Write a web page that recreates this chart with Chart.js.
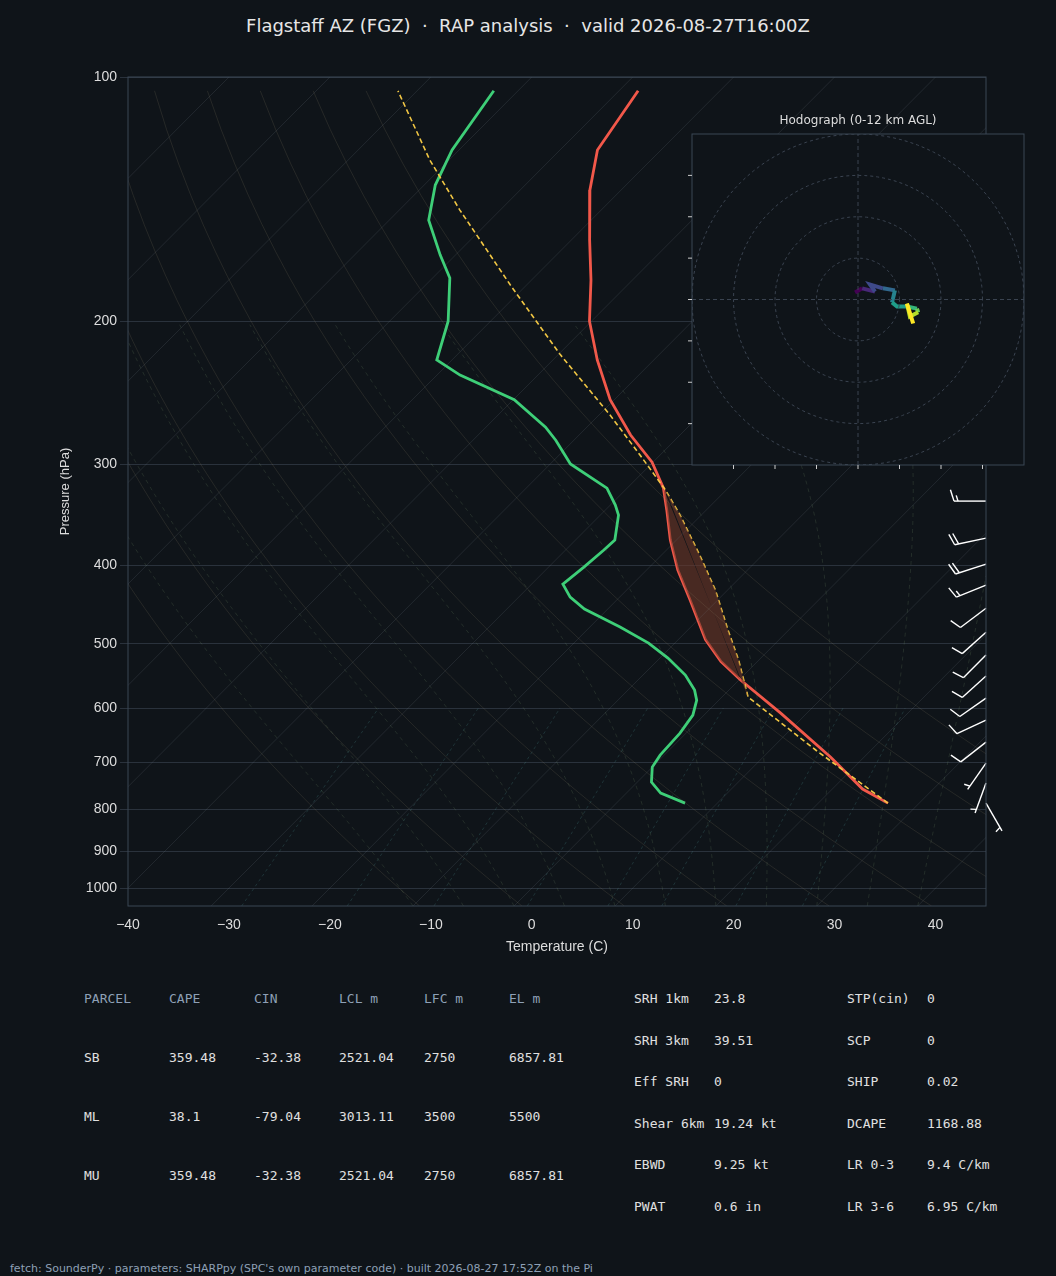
<!DOCTYPE html>
<html>
<head>
<meta charset="UTF-8">
<script src="https://cdn.jsdelivr.net/npm/chart.js"></script>
<style>
  body { margin: 0; background: #0f1419; width: 1056px; height: 1276px; position: relative; overflow: hidden; font-family: 'DejaVu Sans', sans-serif; }
  #title { position: absolute; top: 15px; left: 0; width: 1056px; text-align: center; color: #e6e6e6; font-size: 18px; }
  #skew { position: absolute; left: 0; top: 0; }
  #hodo { position: absolute; left: 682px; top: 124px; }
  #hodoTitle { position: absolute; left: 692px; width: 332px; top: 113px; text-align: center; color: #dddddd; font-size: 12px; }
  .t { position: absolute; font-family: 'DejaVu Sans Mono', monospace; font-size: 13px; color: #e0e0e0; white-space: pre; }
  .h { color: #8ea0b6; }
  #foot { position: absolute; left: 10px; top: 1262px; color: #8ea0b6; font-size: 11px; }
</style>
</head>
<body>
<div id="title">Flagstaff AZ (FGZ) &nbsp;·&nbsp; RAP analysis &nbsp;·&nbsp; valid 2026-08-27T16:00Z</div>
<canvas id="skew" width="1056" height="960"></canvas>
<div id="hodoTitle">Hodograph (0-12 km AGL)</div>
<canvas id="hodo" width="352" height="351"></canvas>
<div id="tables"></div>
<div id="foot">fetch: SounderPy · parameters: SHARPpy (SPC's own parameter code) · built 2026-08-27 17:52Z on the Pi</div>
<script>
// ---- sounding data (hPa, C) ----
const tempP = [104, 123, 137.8, 158.8, 178, 200, 223.3, 250, 276.3, 298.4, 321.3, 342, 372.3, 405.4, 441.6, 493.9, 525.6, 553.4, 608.5, 689.5, 754.9, 785.6];
const tempC = [-68.1, -66.3, -63.1, -58.2, -54.1, -50.2, -45.6, -40.4, -34.9, -30.1, -26.4, -23.9, -20.6, -16.9, -12.7, -7.3, -3.6, 0.1, 7.4, 16.7, 23.0, 26.9];
const dewP = [104, 123, 135.9, 150.1, 165.8, 176.9, 200, 223.3, 233.1, 250, 270.2, 280.4, 300, 321.3, 337.1, 346.8, 372.3, 383, 402, 421.9, 437.7, 452.9, 476.6, 498.7, 520.4, 546.2, 570, 586.5, 612, 644.1, 685.5, 709.2, 740.1, 763.6, 785.6];
const dewC = [-82.4, -80.7, -78.9, -76.1, -71.5, -68.3, -64.2, -61.5, -57.7, -49.9, -44.1, -41.8, -38.0, -32.0, -29.5, -28.2, -26.1, -26.2, -26.5, -26.9, -24.9, -22.3, -17.0, -12.6, -9.2, -5.8, -3.4, -2.2, -1.1, -0.6, -0.4, 0.0, 1.4, 3.4, 6.8];
const parcelP = [785.6, 675.6, 581.5, 523.4, 480.8, 429.1, 388.6, 346.8, 323.1, 292.4, 261.1, 219.9, 180.5, 145.9, 126.6, 104];
const parcelC = [26.9, 14.5, 2.6, -2.0, -6.0, -11.2, -16.2, -22.1, -26.0, -32.0, -38.9, -49.8, -61.6, -74.0, -81.9, -91.9];
const capeTop = 320, capeBottom = 585;

// wind barbs (hPa, direction deg, speed kt)
const barbP = [333.3, 370.2, 398.6, 423.1, 451.8, 483.6, 516, 547.7, 583.2, 620.7, 660.7, 701.3, 742, 785.6];
const barbDir = [270, 258, 252, 248, 233, 228, 225, 228, 235, 245, 232, 215, 200, 150];
const barbSpd = [15, 20, 20, 15, 10, 10, 10, 10, 10, 10, 10, 5, 5, 5];

// hodograph (kt)
const hodoU = [-0.7, 1.0, 4.1, 2.9, 6.0, 8.9, 8.2, 9.4, 11.8, 14.2, 14.5, 12.5, 11.8, 13.3];
const hodoV = [1.7, 2.7, 1.9, 3.6, 2.7, 2.2, -0.7, -1.7, -1.7, -2.2, -3.1, -4.1, -1.0, -5.8];

const pTicks = [100, 200, 300, 400, 500, 600, 700, 800, 900, 1000];
const tTicks = [-40, -30, -20, -10, 0, 10, 20, 30, 40];

// ---- skew transform ----
const SKEW = 80;
const sx = (t, p) => t + SKEW * Math.log10(1000 / p);
const pts = (ps, ts) => ps.map((p, i) => ({ x: sx(ts[i], p), y: p }));

const bgLines = [];
const pLevels = [];
for (let p = 1052; p >= 100; p -= 12) pLevels.push(p);
// isotherms
for (let t = -120; t <= 50; t += 10) {
  bgLines.push({ data: [{ x: sx(t, 1052), y: 1052 }, { x: sx(t, 100), y: 100 }], borderColor: 'rgba(130,140,150,0.22)', borderWidth: 0.8 });
}
// dry adiabats
for (let th = 250; th <= 480; th += 10) {
  bgLines.push({ data: pLevels.map(p => ({ x: sx(th * Math.pow(p / 1000, 0.2857) - 273.15, p), y: p })), borderColor: 'rgba(150,140,110,0.22)', borderWidth: 0.8 });
}
// moist adiabats
function es(t) { return 6.112 * Math.exp(17.67 * t / (t + 243.5)); }
for (let t0 = -10; t0 <= 40; t0 += 5) {
  let T = t0 + 273.15, p = 1052;
  const d = [];
  while (p > 200) {
    const rs = 0.622 * es(T - 273.15) / (p - es(T - 273.15));
    const num = (287 * T + 2.5e6 * rs) / (1004 + 2.5e6 * 2.5e6 * rs * 0.622 / (287 * T * T));
    d.push({ x: sx(T - 273.15, p), y: p });
    T -= num / p * 5;
    p -= 5;
  }
  bgLines.push({ data: d, borderColor: 'rgba(120,150,110,0.25)', borderWidth: 0.8, borderDash: [4, 4] });
}
// mixing ratio lines
[0.4, 1, 2, 4, 7, 10, 16, 24].forEach(w => {
  const d = [1052, 600].map(p => {
    const e = p * (w / 1000) / (0.622 + w / 1000);
    const l = Math.log(e / 6.112);
    return { x: sx(243.5 * l / (17.67 - l), p), y: p };
  });
  bgLines.push({ data: d, borderColor: 'rgba(80,150,150,0.3)', borderWidth: 0.8, borderDash: [3, 3] });
});

// CAPE polygon (parcel side down to 585, environment side from 553 upward)
const capeShape = pts(parcelP, parcelC).filter(q => q.y >= capeTop && q.y <= capeBottom)
  .concat(pts(tempP, tempC).filter(q => q.y >= capeTop && q.y <= capeBottom).reverse());

const datasets = bgLines.map(l => Object.assign({ pointRadius: 0, fill: false, tension: 0 }, l));
datasets.push({ data: capeShape.concat([capeShape[0]]), borderWidth: 0, pointRadius: 0, fill: 'shape', backgroundColor: 'rgba(110,55,40,0.6)', tension: 0 });
datasets.push({ data: pts(parcelP, parcelC), borderColor: '#f2c744', borderWidth: 1.6, borderDash: [5, 3], pointRadius: 0, tension: 0 });
datasets.push({ data: pts(tempP, tempC), borderColor: '#f2584a', borderWidth: 2.8, pointRadius: 0, tension: 0 });
datasets.push({ data: pts(dewP, dewC), borderColor: '#3ecf78', borderWidth: 2.8, pointRadius: 0, tension: 0 });

const barbPlugin = {
  id: 'barbs',
  afterDatasetsDraw(chart) {
    const ctx = chart.ctx, ys = chart.scales.y, x0 = chart.chartArea.right;
    ctx.save();
    ctx.strokeStyle = '#ffffff'; ctx.lineWidth = 1.4;
    barbP.forEach((p, i) => {
      const a = barbDir[i] * Math.PI / 180;
      const s = { x: Math.sin(a), y: -Math.cos(a) };
      const n = { x: -s.y, y: s.x };
      const y0 = ys.getPixelForValue(p), L = 32;
      const tip = { x: x0 + s.x * L, y: y0 + s.y * L };
      ctx.beginPath(); ctx.moveTo(x0, y0); ctx.lineTo(tip.x, tip.y); ctx.stroke();
      let spd = barbSpd[i], off = 0;
      const full = Math.floor(spd / 10), half = (spd % 10) >= 5;
      for (let k = 0; k < full; k++) {
        const b = { x: tip.x - s.x * off, y: tip.y - s.y * off };
        ctx.beginPath(); ctx.moveTo(b.x, b.y);
        ctx.lineTo(b.x + (n.x * 0.95 + s.x * 0.3) * 12, b.y + (n.y * 0.95 + s.y * 0.3) * 12); ctx.stroke();
        off += 4;
      }
      if (half) {
        if (full === 0) off = 4;
        const b = { x: tip.x - s.x * off, y: tip.y - s.y * off };
        ctx.beginPath(); ctx.moveTo(b.x, b.y);
        ctx.lineTo(b.x + (n.x * 0.95 + s.x * 0.3) * 6, b.y + (n.y * 0.95 + s.y * 0.3) * 6); ctx.stroke();
      }
    });
    ctx.restore();
  }
};
const framePlugin = {
  id: 'frame',
  afterDraw(chart) {
    const a = chart.chartArea, ctx = chart.ctx;
    ctx.save(); ctx.strokeStyle = '#3a4655'; ctx.lineWidth = 1;
    ctx.strokeRect(a.left, a.top, a.right - a.left, a.bottom - a.top); ctx.restore();
  }
};

const fmt = v => (v < 0 ? '\u2212' + (-v) : '' + v);
new Chart(document.getElementById('skew'), {
  type: 'line',
  data: { datasets },
  plugins: [barbPlugin, framePlugin],
  options: {
    responsive: false, animation: false, parsing: false,
    layout: { padding: { top: 77, right: 70, left: 54, bottom: 0 } },
    plugins: { legend: { display: false }, tooltip: { enabled: false } },
    scales: {
      x: {
        type: 'linear', min: -40, max: 45,
        afterBuildTicks: s => { s.ticks = tTicks.map(v => ({ value: v })); },
        afterFit: s => { s.height = 54; },
        ticks: { color: '#dddddd', font: { size: 14 }, callback: fmt, maxRotation: 0 },
        grid: { display: false }, border: { display: false },
        title: { display: true, text: 'Temperature (C)', color: '#dddddd', font: { size: 14 }, padding: { top: 2 } }
      },
      y: {
        type: 'logarithmic', reverse: true, min: 100, max: 1052,
        afterBuildTicks: s => { s.ticks = pTicks.map(v => ({ value: v })); },
        afterFit: s => { s.width = 74; },
        ticks: { color: '#dddddd', font: { size: 14 }, callback: v => '' + v },
        grid: { color: '#2a323c', lineWidth: 1 }, border: { display: false },
        title: { display: true, text: 'Pressure (hPa)', color: '#dddddd', font: { size: 13 }, padding: { bottom: 4 } }
      }
    }
  }
});

// ---- hodograph ----
const viridis = ['#440154', '#482878', '#3e4989', '#31688e', '#26828e', '#1f9e89', '#35b779', '#6ece58', '#b5de2b', '#fde725'];
const ring = r => { const d = []; for (let k = 0; k <= 120; k++) { const a = k / 120 * 2 * Math.PI; d.push({ x: r * Math.cos(a), y: r * Math.sin(a) }); } return d; };
const hodoSets = [10, 20, 30, 40].map(r => ({ data: ring(r), borderColor: '#3a4350', borderWidth: 1, borderDash: [3, 3], pointRadius: 0 }));
hodoSets.push({ data: [{ x: -40, y: 0 }, { x: 40, y: 0 }], borderColor: '#3a4350', borderWidth: 1, borderDash: [4, 3], pointRadius: 0 });
hodoSets.push({ data: [{ x: 0, y: -40 }, { x: 0, y: 40 }], borderColor: '#3a4350', borderWidth: 1, borderDash: [4, 3], pointRadius: 0 });
hodoSets.push({
  data: hodoU.map((u, i) => ({ x: u, y: hodoV[i] })), borderWidth: 4, pointRadius: 0,
  segment: { borderColor: c => viridis[Math.round(c.p0DataIndex / (hodoU.length - 2) * 9)] }
});
const hodoFrame = {
  id: 'hframe',
  beforeDraw(chart) {
    const a = chart.chartArea, ctx = chart.ctx;
    ctx.save(); ctx.fillStyle = '#0f1419'; ctx.fillRect(a.left, a.top, a.right - a.left, a.bottom - a.top); ctx.restore();
  },
  afterDraw(chart) {
    const a = chart.chartArea, ctx = chart.ctx, xs = chart.scales.x, ys = chart.scales.y;
    ctx.save(); ctx.strokeStyle = '#3a4655'; ctx.lineWidth = 1;
    ctx.strokeRect(a.left, a.top, a.right - a.left, a.bottom - a.top);
    ctx.strokeStyle = '#cccccc';
    for (let v = -30; v <= 30; v += 10) {
      const y = ys.getPixelForValue(v), x = xs.getPixelForValue(v);
      ctx.beginPath(); ctx.moveTo(a.left, y); ctx.lineTo(a.left - 4, y); ctx.stroke();
      ctx.beginPath(); ctx.moveTo(x, a.bottom); ctx.lineTo(x, a.bottom + 4); ctx.stroke();
    }
    ctx.restore();
  }
};
new Chart(document.getElementById('hodo'), {
  type: 'line',
  data: { datasets: hodoSets },
  plugins: [hodoFrame],
  options: {
    responsive: false, animation: false, parsing: false,
    layout: { padding: 10 },
    plugins: { legend: { display: false }, tooltip: { enabled: false } },
    scales: { x: { type: 'linear', min: -40, max: 40, display: false }, y: { type: 'linear', min: -40, max: 40, display: false } }
  }
});

// ---- parameter tables ----
const parcelHead = ['PARCEL', 'CAPE', 'CIN', 'LCL m', 'LFC m', 'EL m'];
const parcelRows = [
  ['SB', '359.48', '-32.38', '2521.04', '2750', '6857.81'],
  ['ML', '38.1', '-79.04', '3013.11', '3500', '5500'],
  ['MU', '359.48', '-32.38', '2521.04', '2750', '6857.81']
];
const paramsA = [['SRH 1km', '23.8'], ['SRH 3km', '39.51'], ['Eff SRH', '0'], ['Shear 6km', '19.24 kt'], ['EBWD', '9.25 kt'], ['PWAT', '0.6 in']];
const paramsB = [['STP(cin)', '0'], ['SCP', '0'], ['SHIP', '0.02'], ['DCAPE', '1168.88'], ['LR 0-3', '9.4 C/km'], ['LR 3-6', '6.95 C/km']];

let html = '';
const put = (x, y, txt, cls) => { html += `<div class="t ${cls || ''}" style="left:${x}px;top:${y}px">${txt}</div>`; };
parcelHead.forEach((h, i) => put(84 + i * 85, 991, h, 'h'));
parcelRows.forEach((r, j) => r.forEach((v, i) => put(84 + i * 85, 1050 + j * 59, v)));
paramsA.forEach((r, j) => { put(634, 991 + j * 41.5, r[0]); put(714, 991 + j * 41.5, r[1]); });
paramsB.forEach((r, j) => { put(847, 991 + j * 41.5, r[0]); put(927, 991 + j * 41.5, r[1]); });
document.getElementById('tables').innerHTML = html;
</script>
</body>
</html>
